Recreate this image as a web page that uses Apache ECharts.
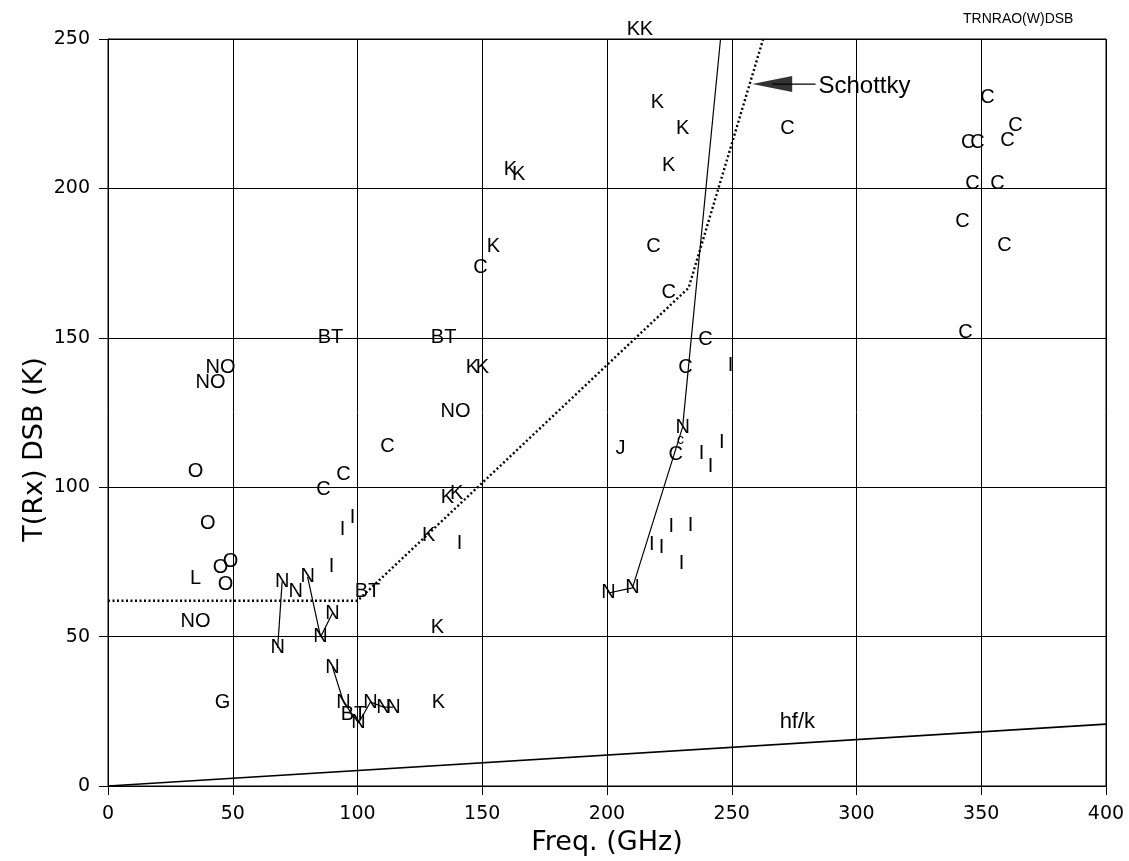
<!DOCTYPE html>
<html><head><meta charset="utf-8">
<script src="https://cdn.jsdelivr.net/npm/echarts@6/dist/echarts.min.js"></script>
<style>html,body{margin:0;padding:0;background:#fff}#c{width:1129px;height:861px}</style>
</head><body><div id="c"></div>
<script>
// ---- axis ranges / ticks ----
const xTickValues = [0, 50, 100, 150, 200, 250, 300, 350, 400];
const yTickValues = [0, 50, 100, 150, 200, 250];

// ---- receiver points, by label code: [freq GHz, T(Rx) K] ----
const codeK = [[210.6,253.3],[215.8,253.3],[220.2,228.9],[230.3,220.2],[224.7,207.8],[161.3,206.2],[164.6,204.5],[154.5,180.4],[146.1,140.2],[150.1,139.9],[136.0,96.4],[139.7,98.0],[128.5,84.0],[132.0,52.9],[132.4,28.1]];
const codeC = [[272.3,220.2],[218.6,180.4],[224.7,165.3],[149.3,173.4],[112.0,113.5],[94.4,104.1],[86.4,99.1],[227.5,110.8],[231.5,140.2],[239.5,149.3],[352.5,230.3],[363.7,221.2],[360.5,216.2],[344.8,215.2],[348.5,215.2],[346.5,201.8],[356.5,201.8],[342.5,188.8],[359.3,181.0],[343.7,151.9]];
const codeCsmall = [[229.5,115.8]];
const codeN = [[68.0,46.2],[69.8,68.4],[75.2,65.0],[80.0,70.0],[85.2,49.9],[90.0,57.9],[90.0,39.8],[94.4,28.1],[100.4,21.1],[105.2,28.1],[110.4,26.4],[114.4,26.4],[200.6,64.6],[210.2,66.3],[230.3,120.1]];
const codeI = [[249.5,140.9],[237.9,111.4],[241.5,106.8],[246.0,114.8],[225.8,86.7],[233.5,87.3],[217.9,80.7],[221.9,79.7],[229.9,74.6],[98.0,90.0],[94.0,85.7],[89.6,73.6],[140.9,81.3]];
const codeBT = [[89.2,150.0],[134.5,150.0],[104.0,65.0],[98.4,23.8]];
const codeNO = [[45.1,140.2],[41.1,135.2],[139.3,125.2],[35.1,55.0]];
const codeO = [[35.1,105.1],[40.0,88.0],[49.1,75.0],[45.1,73.0],[47.1,67.3]];
const codeL = [[35.1,69.6]];
const codeG = [[45.9,27.8]];
const codeJ = [[205.4,113.1]];

// ---- connected receiver series (solid lines) ----
const chainA = [[68.0,46.2],[69.8,68.4]];
const chainB = [[80.0,70.0],[85.2,49.9],[90.0,57.9]];
const chainC = [[90.0,39.8],[94.4,28.1],[100.4,21.1],[105.2,28.1],[110.4,26.4],[114.4,26.4]];
const chainD = [[200.6,64.6],[210.2,66.3],[230.3,120.1],[245.5,250.0]];

// ---- Schottky envelope (dotted) and quantum limit ----
const schottky = [[0,62],[100,62],[232.7,166.7],[262.6,250]];
const hfk = [[0,0],[400,20.7]];

// ---- annotations ----
const arrowHead = [[266.2,234.9]];
const arrowStem = [[266.2,234.9],[283.6,234.9]];
const schottkyLabel = [[303.2,234.3]];
const hfkLabel = [[276.3,21.4]];

const INK = '#000';
const MARK_FONT = "'Liberation Sans Narrow', 'Liberation Sans', Arial, sans-serif";
const AXIS_FONT = "'DejaVu Sans', sans-serif";

function textSeries(pts, letter, size) {
  return {
    type: 'scatter', data: pts, symbol: 'circle', symbolSize: 1, clip: false, silent: true, z: 5,
    itemStyle: { color: '#000', opacity: 0 },
    label: { show: true, position: 'inside', formatter: letter, color: INK, opacity: 1,
      textBorderWidth: 0, fontSize: size || 20, fontFamily: MARK_FONT },
    emphasis: { disabled: true }
  };
}
function lineSeries(pts, style) {
  return { type: 'line', data: pts, symbol: 'none', silent: true, z: 3,
    lineStyle: Object.assign({ color: INK, width: 1.2 }, style || {}) };
}

const chart = echarts.init(document.getElementById('c'), null, { renderer: 'canvas' });
chart.setOption({
  animation: false,
  backgroundColor: '#fff',
  title: { text: 'TRNRAO(W)DSB', left: 958, top: 7,
    textStyle: { fontSize: 14, fontWeight: 'normal', color: INK, fontFamily: "'Liberation Sans', sans-serif" } },
  grid: { left: 108, top: 39, width: 998, height: 747, show: true, borderColor: INK, borderWidth: 1, backgroundColor: 'transparent' },
  xAxis: {
    type: 'value', min: xTickValues[0], max: xTickValues[xTickValues.length - 1], interval: 50,
    name: 'Freq. (GHz)', nameLocation: 'middle', nameGap: 43,
    nameTextStyle: { fontSize: 27, color: INK, fontFamily: AXIS_FONT },
    axisLine: { lineStyle: { color: INK, width: 1 } },
    axisTick: { show: true, inside: false, length: 9, lineStyle: { color: INK } },
    axisLabel: { fontSize: 19, color: INK, margin: 19, fontFamily: AXIS_FONT },
    splitLine: { show: true, lineStyle: { color: INK, width: 1 } }
  },
  yAxis: {
    type: 'value', min: yTickValues[0], max: yTickValues[yTickValues.length - 1], interval: 50,
    name: 'T(Rx) DSB (K)', nameLocation: 'middle', nameGap: 60, nameMoveOverlap: false,
    nameTextStyle: { fontSize: 27, color: INK, fontFamily: AXIS_FONT, padding: [0, 74, 0, 0] },
    axisLine: { show: true, lineStyle: { color: INK, width: 1 } },
    axisTick: { show: true, inside: false, length: 9, lineStyle: { color: INK } },
    axisLabel: { fontSize: 19, color: INK, margin: 18, fontFamily: AXIS_FONT },
    splitLine: { show: true, lineStyle: { color: INK, width: 1 } }
  },
  series: [
    lineSeries(hfk, { width: 1.6 }),
    lineSeries(schottky, { type: [2, 2.5], width: 2.4 }),
    lineSeries(chainA), lineSeries(chainB), lineSeries(chainC), lineSeries(chainD),
    lineSeries(arrowStem, { width: 1.4 }),
    { type: 'scatter', data: arrowHead, symbol: 'triangle', symbolSize: [16, 40], symbolRotate: 90,
      itemStyle: { color: INK }, silent: true, clip: false, z: 4 },
    textSeries(codeK, 'K'), textSeries(codeC, 'C'), textSeries(codeCsmall, 'c', 14),
    textSeries(codeN, 'N'), textSeries(codeI, 'I'), textSeries(codeBT, 'BT'),
    textSeries(codeNO, 'NO'), textSeries(codeO, 'O'), textSeries(codeL, 'L'),
    textSeries(codeG, 'G'), textSeries(codeJ, 'J'),
    textSeries(schottkyLabel, 'Schottky', 24),
    textSeries(hfkLabel, 'hf/k', 22)
  ]
});
</script></body></html>
